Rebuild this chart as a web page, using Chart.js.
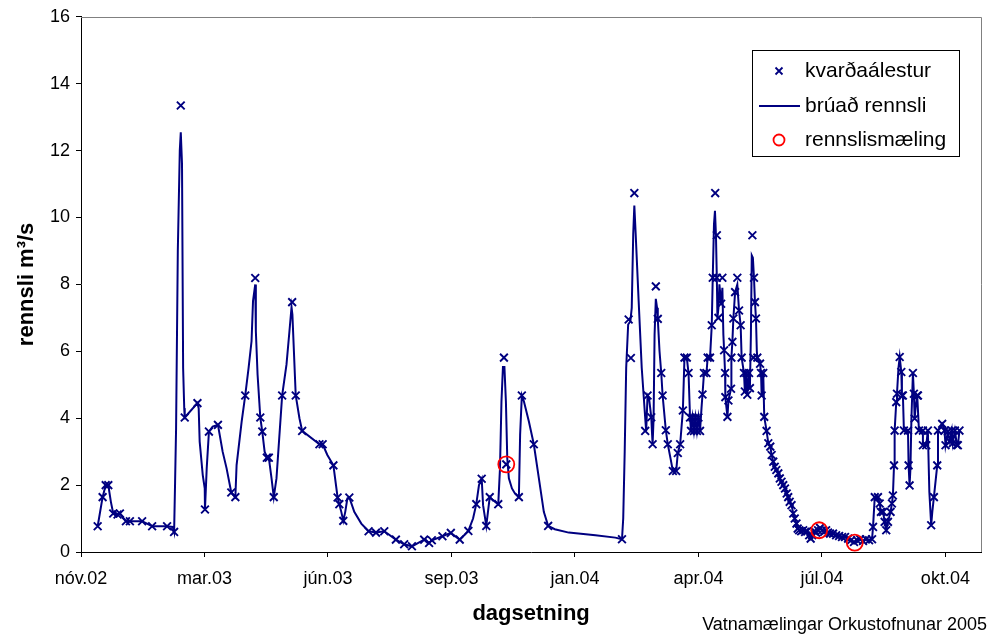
<!DOCTYPE html>
<html>
<head>
<meta charset="utf-8">
<script src="https://cdn.jsdelivr.net/npm/chart.js@4/dist/chart.umd.min.js"></script>
<style>
html,body{margin:0;padding:0;background:#fff;}
canvas{display:block;}
</style>
</head>
<body>
<canvas id="c" width="991" height="636"></canvas>
<script>
// x values: days counted from the first axis tick (nóv.02); ticks every 100 days
const tickDays = [0, 100, 200, 300, 400, 500, 600, 700];
const tickLabels = ['nóv.02','mar.03','jún.03','sep.03','jan.04','apr.04','júl.04','okt.04'];

// brúað rennsli (bridged discharge line)
const lineDays = [13.5,17.5,20.0,22.1,24.2,26.1,29.6,31.5,36.4,39.6,49.5,57.6,69.7,74.3,75.4,76.2,77.0,78.4,80.0,80.8,81.8,82.7,83.6,84.0,94.3,95.3,96.1,98.6,100.2,100.4,101.8,103.6,106.6,110.9,114.7,117.9,121.7,125.0,126.0,130.1,133.0,135.7,138.1,139.3,141.1,141.6,143.0,145.2,146.8,148.7,150.5,152.1,154.3,156.1,158.3,162.9,166.4,168.8,170.5,171.2,173.3,173.9,176.9,179.1,193.1,195.7,199.5,204.4,207.8,209.2,210.8,212.4,214.0,215.7,217.3,221.3,227.0,232.9,238.9,245.6,255.0,261.7,268.0,277.9,281.9,284.1,292.7,299.5,306.7,313.7,317.5,320.1,322.3,324.5,325.6,328.2,331.0,333.7,337.9,339.3,340.5,341.7,342.9,344.1,345.2,346.5,349.0,351.4,354.6,355.6,357.0,358.7,362.7,366.7,370.8,374.8,378.3,383.7,395.0,416.6,432.7,438.1,439.1,440.3,441.5,443.1,444.9,446.0,447.2,448.1,449.2,451.6,454.1,457.1,457.7,458.8,460.0,461.8,462.5,462.9,463.7,464.5,465.5,466.5,467.1,468.5,469.9,471.0,473.6,475.2,477.4,479.3,482.0,483.3,485.2,487.4,488.7,490.6,492.0,493.2,494.0,495.2,496.4,497.6,498.8,500.0,501.3,502.5,503.3,504.5,506.5,507.5,509.4,510.8,511.6,512.6,513.4,514.2,514.9,515.4,516.2,517.0,518.4,519.4,520.2,520.8,521.6,521.8,523.5,524.3,526.4,526.7,527.5,528.3,529.7,531.5,532.9,534.2,535.0,536.9,537.6,538.8,539.6,541.0,541.7,542.5,543.2,544.1,545.0,545.8,546.6,547.3,547.7,549.9,550.7,551.2,552.5,553.3,555.2,556.6,558.2,559.3,560.6,561.8,563.1,564.7,565.9,567.3,568.7,570.1,571.5,572.7,573.9,575.4,576.8,578.0,579.4,580.4,581.6,583.2,584.8,586.4,588.0,589.7,590.9,592.1,593.7,595.3,596.9,598.5,600.1,601.8,603.4,605.0,606.6,609.0,611.5,613.9,616.3,618.7,621.2,623.6,626.0,628.5,630.9,633.3,635.7,638.2,640.6,641.4,642.8,645.4,646.8,647.8,649.5,650.8,652.1,653.5,655.6,656.7,657.5,658.4,658.9,660.2,660.8,662.0,663.0,664.3,664.8,665.6,666.4,668.0,669.7,670.2,671.0,671.7,672.5,673.7,674.5,675.1,676.1,677.2,677.8,678.6,681.8,681.8,684.5,685.8,687.0,688.5,689.4,690.7,693.4,694.0,697.4,699.3,700.1,702.0,703.6,705.2,706.0,707.7,709.3,710.1,711.4];
const lineFlow = [0.77,1.64,2.0,2.0,1.5,1.15,1.12,1.15,0.92,0.92,0.92,0.77,0.77,0.75,0.6,2.1,3.7,9.0,12.0,12.55,11.6,5.5,4.3,4.02,4.45,4.3,3.3,2.3,1.9,1.27,2.5,3.6,3.75,3.8,3.0,2.5,1.78,1.64,2.6,3.9,4.68,5.5,6.3,7.5,8.0,6.6,5.3,4.02,3.6,3.0,2.82,2.82,2.2,1.64,2.2,4.68,5.6,6.6,7.32,7.1,5.2,4.68,4.0,3.62,3.22,3.22,2.9,2.59,1.63,1.43,1.2,0.93,1.2,1.6,1.63,1.2,0.85,0.62,0.58,0.62,0.37,0.23,0.17,0.37,0.27,0.35,0.47,0.57,0.37,0.63,1.0,1.43,2.0,2.19,1.4,0.78,1.64,1.55,1.43,2.5,4.5,5.53,5.53,4.5,2.8,2.2,1.9,1.75,1.64,3.5,4.68,4.5,3.9,3.22,2.2,1.2,0.78,0.68,0.58,0.5,0.43,0.38,1.0,3.0,5.5,6.8,6.9,7.3,9.5,10.36,9.5,7.5,5.5,3.9,3.62,4.68,4.6,4.03,3.5,3.22,4.0,6.5,7.57,7.3,6.97,6.0,5.35,4.68,3.64,3.22,2.8,2.42,2.42,2.96,3.22,4.23,5.81,5.81,5.35,4.02,3.62,4.02,3.62,4.02,3.62,4.02,3.62,4.3,4.71,5.35,5.35,5.81,5.81,6.78,8.2,9.8,10.2,9.47,8.2,7.0,7.3,8.0,7.42,7.9,6.5,6.03,5.35,4.63,4.04,4.53,4.88,5.81,6.28,6.98,7.77,8.0,7.22,6.78,5.81,5.35,4.8,5.35,4.7,5.35,4.9,6.5,8.87,8.8,8.2,7.47,6.98,6.0,5.81,5.63,5.35,4.68,5.35,4.04,3.62,3.25,3.15,2.9,2.7,2.55,2.45,2.35,2.2,2.1,2.0,1.9,1.75,1.64,1.5,1.4,1.15,1.0,0.85,0.7,0.65,0.62,0.65,0.6,0.62,0.5,0.4,0.5,0.62,0.58,0.65,0.72,0.65,0.6,0.65,0.58,0.55,0.55,0.5,0.48,0.45,0.45,0.4,0.35,0.3,0.35,0.38,0.33,0.38,0.35,0.38,0.75,1.64,1.64,1.45,1.2,1.2,0.9,0.65,0.9,1.2,1.45,1.69,2.59,3.63,4.48,4.73,5.5,5.83,5.38,4.68,4.68,3.63,3.63,3.63,2.59,1.99,2.5,4.0,5.35,4.73,3.99,4.4,4.68,4.68,3.63,3.63,3.19,3.19,3.63,1.8,0.8,1.2,1.64,2.59,3.63,3.83,3.63,3.19,3.6,3.3,3.63,3.25,3.63,3.2,3.19,3.63];

// kvarðaálestur (gauge readings)
const markDays = [13.5,17.5,20.0,22.1,26.1,29.6,31.5,36.4,39.6,49.5,57.6,69.7,75.4,80.8,84.0,94.3,100.4,103.6,110.9,121.7,125.0,133.0,141.1,145.2,146.8,150.5,152.1,156.1,162.9,171.0,173.9,179.1,193.1,195.7,204.4,207.8,209.2,212.4,217.3,232.9,238.9,245.6,255.0,261.7,268.0,277.9,281.9,284.1,292.7,299.5,306.7,313.7,320.1,324.5,328.2,331.0,337.9,342.5,344.4,354.6,357.0,366.7,378.3,438.1,443.5,445.3,448.1,456.9,458.8,461.8,462.9,465.5,467.1,469.9,471.0,473.6,475.2,479.3,482.0,483.3,485.2,487.4,488.7,490.6,492.0,493.2,494.0,495.2,496.4,497.6,498.8,500.0,501.3,503.3,504.5,506.5,507.5,509.4,510.8,511.6,513.6,514.9,514.9,516.2,518.4,519.4,520.8,521.6,521.8,523.5,524.3,526.4,526.7,527.5,528.3,529.7,531.5,532.9,534.2,535.0,536.9,537.6,538.8,539.6,541.0,541.7,543.7,544.5,545.0,545.8,546.6,547.7,549.9,550.7,551.2,552.5,553.3,555.2,556.6,558.2,559.3,560.6,561.8,563.1,564.7,565.9,567.3,568.7,570.1,571.5,572.7,573.9,575.4,576.8,578.0,579.4,580.4,581.6,583.2,584.8,586.4,588.0,589.7,590.9,592.1,593.7,595.3,596.9,598.5,600.1,601.8,603.4,605.0,606.6,609.0,611.5,613.9,616.3,618.7,621.2,623.6,626.0,628.5,630.9,633.3,635.7,638.2,640.6,641.4,642.8,645.4,646.8,647.8,649.5,650.8,652.1,653.5,655.6,656.7,657.5,658.4,658.9,660.2,660.8,663.0,664.3,664.8,665.6,666.4,669.7,670.2,671.0,673.7,674.5,675.1,677.2,677.8,678.6,681.8,681.8,684.5,685.8,688.5,690.7,693.4,694.0,697.4,699.3,700.1,702.0,703.6,705.2,706.0,707.7,709.3,710.1,711.4];
const markFlow = [0.77,1.64,2.0,2.0,1.15,1.12,1.15,0.92,0.92,0.92,0.77,0.77,0.6,13.35,4.02,4.45,1.27,3.6,3.8,1.78,1.64,4.68,8.19,4.02,3.6,2.82,2.82,1.64,4.68,7.47,4.68,3.62,3.22,3.22,2.59,1.63,1.43,0.93,1.63,0.62,0.58,0.62,0.37,0.23,0.17,0.37,0.27,0.35,0.47,0.57,0.37,0.63,1.43,2.19,0.78,1.64,1.43,5.81,2.62,1.64,4.68,3.22,0.78,0.38,6.95,5.8,10.73,3.62,4.68,4.03,3.22,7.94,6.97,5.35,4.68,3.64,3.22,2.42,2.42,2.96,3.22,4.23,5.81,5.81,5.35,4.02,3.62,4.02,3.62,4.02,3.62,4.02,3.62,4.71,5.35,5.35,5.81,5.81,6.78,8.2,10.73,9.47,8.2,7.0,7.42,8.2,6.03,5.35,4.63,4.04,4.53,4.88,5.81,6.28,6.98,7.77,8.2,7.22,6.78,5.81,5.35,4.8,5.35,4.7,5.35,4.9,9.47,5.81,8.2,7.47,6.98,5.81,5.63,5.35,4.68,5.35,4.04,3.62,3.25,3.15,2.9,2.7,2.55,2.45,2.35,2.2,2.1,2.0,1.9,1.75,1.64,1.5,1.4,1.15,1.0,0.85,0.7,0.65,0.62,0.65,0.6,0.62,0.5,0.4,0.5,0.62,0.58,0.65,0.72,0.65,0.6,0.65,0.58,0.55,0.55,0.5,0.48,0.45,0.45,0.4,0.35,0.3,0.35,0.38,0.33,0.38,0.35,0.38,0.75,1.64,1.64,1.45,1.2,1.2,0.9,0.65,0.9,1.2,1.45,1.69,2.59,3.63,4.48,4.73,5.83,5.38,4.68,4.68,3.63,3.63,2.59,1.99,5.35,4.73,3.99,4.68,4.68,3.63,3.63,3.19,3.19,3.63,0.8,1.64,2.59,3.63,3.83,3.63,3.19,3.6,3.3,3.63,3.25,3.63,3.2,3.19,3.63];

// rennslismæling (discharge measurements)
const measDays = [344.4, 597.8, 626.6];
const measFlow = [2.62, 0.65, 0.28];

const legendLabels = ['kvarðaálestur', 'brúað rennsli', 'rennslismæling'];
const yTitle = 'rennsli m³/s';
const xTitle = 'dagsetning';
const sourceNote = 'Vatnamælingar Orkustofnunar 2005';

const NAVY = '#000080';
const FONT = "'Liberation Sans', Arial, sans-serif";
const toXY = (xs, ys) => xs.map((x, i) => ({x: x, y: ys[i]}));

const decor = {
  id: 'decor',
  afterDraw(chart) {
    const ctx = chart.ctx, a = chart.chartArea;
    ctx.save();
    // plot frame (top & right)
    ctx.strokeStyle = '#808080';
    ctx.lineWidth = 1;
    ctx.beginPath();
    ctx.moveTo(a.left, Math.round(a.top) + 0.5);
    ctx.lineTo(Math.round(a.right) + 0.5, Math.round(a.top) + 0.5);
    ctx.lineTo(Math.round(a.right) + 0.5, a.bottom);
    ctx.stroke();

    // legend
    const bx = 752.5, by = 50.5, bw = 207, bh = 106;
    ctx.fillStyle = '#fff';
    ctx.fillRect(bx, by, bw, bh);
    ctx.strokeStyle = '#000';
    ctx.strokeRect(bx, by, bw, bh);
    const rows = [71, 106, 140];
    // marker
    ctx.strokeStyle = NAVY; ctx.lineWidth = 1.8;
    const r = 3.5, mx = 779, my = rows[0];
    ctx.beginPath();
    ctx.moveTo(mx - r, my - r); ctx.lineTo(mx + r, my + r);
    ctx.moveTo(mx - r, my + r); ctx.lineTo(mx + r, my - r);
    ctx.stroke();
    // line
    ctx.lineWidth = 2;
    ctx.beginPath(); ctx.moveTo(759, rows[1]); ctx.lineTo(800, rows[1]); ctx.stroke();
    // circle
    ctx.strokeStyle = '#ff0000'; ctx.lineWidth = 1.8;
    ctx.beginPath(); ctx.arc(779, rows[2], 5.5, 0, Math.PI * 2); ctx.stroke();
    ctx.fillStyle = '#000';
    ctx.font = '21px ' + FONT;
    ctx.textAlign = 'left'; ctx.textBaseline = 'middle';
    legendLabels.forEach((t, i) => ctx.fillText(t, 805, rows[i]));

    // source note
    ctx.font = '18px ' + FONT;
    ctx.textAlign = 'right';
    ctx.fillText(sourceNote, 987, 625);
    ctx.restore();
  }
};

new Chart(document.getElementById('c'), {
  type: 'scatter',
  data: {
    datasets: [
      {
        label: legendLabels[2],
        data: toXY(measDays, measFlow),
        pointStyle: 'circle',
        pointRadius: 8,
        borderColor: '#ff0000',
        backgroundColor: 'rgba(0,0,0,0)',
        pointBorderWidth: 1.8,
        showLine: false
      },
      {
        label: legendLabels[0],
        data: toXY(markDays, markFlow),
        pointStyle: 'crossRot',
        pointRadius: 5.5,
        borderColor: NAVY,
        backgroundColor: NAVY,
        pointBorderWidth: 1.9,
        showLine: false
      },
      {
        label: legendLabels[1],
        data: toXY(lineDays, lineFlow),
        showLine: true,
        borderColor: NAVY,
        borderWidth: 2,
        pointRadius: 0,
        tension: 0
      }
    ]
  },
  options: {
    responsive: false,
    animation: false,
    devicePixelRatio: 1,
    layout: { padding: { left: 0, top: 16, right: 8, bottom: 0 } },
    plugins: { legend: { display: false }, tooltip: { enabled: false } },
    scales: {
      x: {
        type: 'linear',
        min: 0,
        max: 729,
        afterBuildTicks: (s) => { s.ticks = tickDays.map(v => ({value: v})); },
        afterFit: (s) => { s.height = 84; },
        ticks: {
          autoSkip: false,
          maxRotation: 0,
          padding: 11,
          color: '#000',
          font: { family: FONT, size: 18 },
          callback: (v) => { const i = tickDays.indexOf(v); return i >= 0 ? tickLabels[i] : ''; }
        },
        grid: { drawOnChartArea: false, drawTicks: true, tickLength: 5, color: '#000' },
        border: { color: '#000', width: 1 },
        title: { display: true, text: xTitle, color: '#000', font: { family: FONT, size: 22, weight: 'bold' }, padding: { top: 0, bottom: 9 } }
      },
      y: {
        min: 0,
        max: 16,
        afterFit: (s) => { s.width = 81; },
        ticks: {
          stepSize: 2,
          padding: 6,
          color: '#000',
          font: { family: FONT, size: 18 }
        },
        grid: { drawOnChartArea: false, drawTicks: true, tickLength: 5, color: '#000' },
        border: { color: '#000', width: 1 },
        title: { display: true, text: yTitle, color: '#000', font: { family: FONT, size: 22, weight: 'bold' }, padding: { top: 14, bottom: 0 } }
      }
    }
  },
  plugins: [decor]
});
</script>
</body>
</html>
